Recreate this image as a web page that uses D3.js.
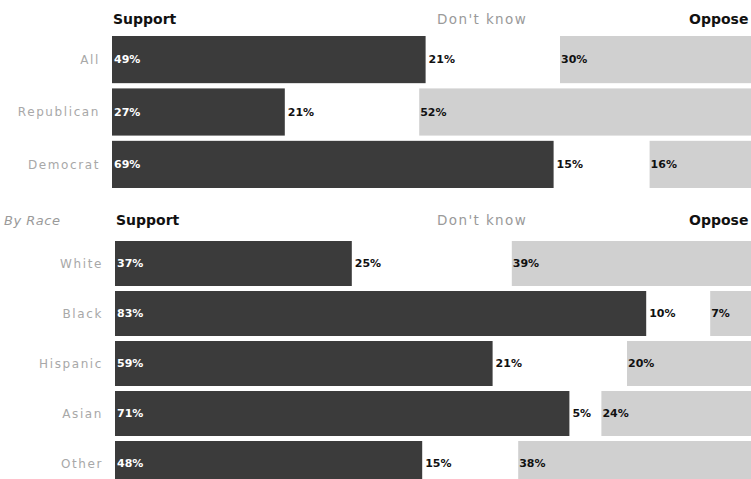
<!DOCTYPE html>
<html>
<head>
<meta charset="utf-8">
<script src="https://cdn.jsdelivr.net/npm/d3@7"></script>
<style>
  html, body { margin: 0; padding: 0; background: #fff; }
  svg { display: block; }
</style>
</head>
<body>
<svg id="chart" width="751" height="479"></svg>
<script>
// Data
const partyGroups = ["All", "Republican", "Democrat"];
const partySupport = [49, 27, 69];
const partyDontKnow = [21, 21, 15];
const partyOppose = [30, 52, 16];

const raceGroups = ["White", "Black", "Hispanic", "Asian", "Other"];
const raceSupport = [37, 83, 59, 71, 48];
const raceDontKnow = [25, 10, 21, 5, 15];
const raceOppose = [39, 7, 20, 24, 38];

const headers = ["Support", "Don't know", "Oppose"];
const sectionTitles = ["", "By Race"];

const svg = d3.select("#chart");

const C = {
  support: "#3b3b3b",
  oppose: "#d0d0d0",
  label: "#a8a8a8",
  text: "#111"
};
const font = "'DejaVu Sans', Verdana, sans-serif";

function drawSection(cfg) {
  const rows = cfg.groups.map((g, i) => ({
    group: g, support: cfg.support[i], dk: cfg.dk[i], oppose: cfg.oppose[i]
  }));
  const x = d3.scaleLinear().domain([0, 100]).range([cfg.x0, cfg.x0 + 640]);
  const y = d3.scaleBand().domain(cfg.groups).range(cfg.yRange).paddingInner(cfg.pad).paddingOuter(0);
  const g = svg.append("g");

  // headers
  g.append("text").attr("x", cfg.x0 + 1).attr("y", cfg.headerY)
    .attr("font-family", font).attr("font-weight", "bold").attr("font-size", 14)
    .attr("fill", C.text).text(headers[0]);
  g.append("text").attr("x", 437).attr("y", cfg.headerY)
    .attr("font-family", font).attr("font-size", 13.5).attr("letter-spacing", 1.4)
    .attr("fill", "#9a9a9a").text(headers[1]);
  g.append("text").attr("x", 689).attr("y", cfg.headerY)
    .attr("font-family", font).attr("font-weight", "bold").attr("font-size", 14)
    .attr("fill", C.text).text(headers[2]);
  if (cfg.title) {
    g.append("text").attr("x", 4).attr("y", cfg.headerY)
      .attr("font-family", font).attr("font-style", "italic").attr("font-size", 13)
      .attr("letter-spacing", 0.5).attr("fill", "#9a9a9a").text(cfg.title);
  }

  const row = g.selectAll("g.row").data(rows).join("g").attr("class", "row");

  row.append("rect")
    .attr("x", x(0)).attr("y", d => y(d.group))
    .attr("width", d => x(d.support) - x(0)).attr("height", y.bandwidth())
    .attr("fill", C.support);
  row.append("rect")
    .attr("x", d => x(d.support + d.dk)).attr("y", d => y(d.group))
    .attr("width", d => x(100) - x(d.support + d.dk)).attr("height", y.bandwidth())
    .attr("fill", C.oppose);

  const mid = d => y(d.group) + y.bandwidth() / 2;

  row.append("text")
    .attr("x", x(0) - 12).attr("y", mid).attr("dy", "0.35em")
    .attr("text-anchor", "end")
    .attr("font-family", font).attr("font-size", 12).attr("letter-spacing", 1.6)
    .attr("fill", C.label).text(d => d.group);

  row.append("text")
    .attr("x", x(0) + 2).attr("y", mid).attr("dy", "0.35em")
    .attr("font-family", font).attr("font-weight", "bold").attr("font-size", 11)
    .attr("fill", "#fff").text(d => d.support + "%");
  row.append("text")
    .attr("x", d => x(d.support) + 3).attr("y", mid).attr("dy", "0.35em")
    .attr("font-family", font).attr("font-weight", "bold").attr("font-size", 11)
    .attr("fill", C.text).text(d => d.dk + "%");
  row.append("text")
    .attr("x", d => x(d.support + d.dk) + 1).attr("y", mid).attr("dy", "0.35em")
    .attr("font-family", font).attr("font-weight", "bold").attr("font-size", 11)
    .attr("fill", C.text).text(d => d.oppose + "%");
}

drawSection({
  groups: partyGroups, support: partySupport, dk: partyDontKnow, oppose: partyOppose,
  x0: 112, yRange: [36, 188], pad: 0.1, headerY: 24, title: sectionTitles[0]
});
drawSection({
  groups: raceGroups, support: raceSupport, dk: raceDontKnow, oppose: raceOppose,
  x0: 115, yRange: [241, 486], pad: 0.1, headerY: 225, title: sectionTitles[1]
});
</script>
</body>
</html>
